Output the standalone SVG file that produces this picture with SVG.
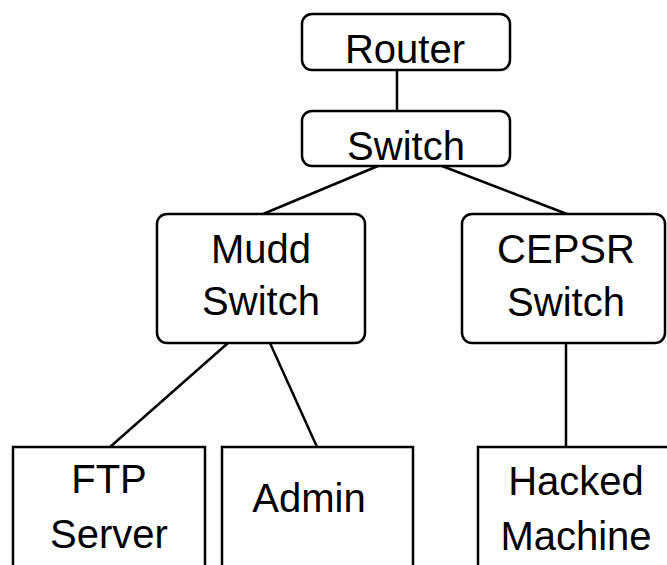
<svg xmlns="http://www.w3.org/2000/svg" width="667" height="565" viewBox="0 0 667 565">
  <style>
    .box { fill: #ffffff; stroke: #000000; stroke-width: 2.5; }
    .link { stroke: #000000; stroke-width: 2.5; fill: none; }
    .label { font-family: "Liberation Sans", Arial, sans-serif; font-size: 40px; fill: #000000; text-anchor: middle; }
  </style>
  <rect width="667" height="565" fill="#ffffff"/>
  <g id="connectors">
    <line class="link" x1="397" y1="70" x2="397" y2="112"/>
    <line class="link" x1="378" y1="166" x2="263" y2="214"/>
    <line class="link" x1="442" y1="166" x2="567" y2="214"/>
    <line class="link" x1="228" y1="343" x2="110" y2="447"/>
    <line class="link" x1="270" y1="343" x2="317" y2="447"/>
    <line class="link" x1="566" y1="343" x2="566" y2="447"/>
  </g>
  <g id="router">
    <rect class="box" x="302" y="14" width="208" height="56" rx="10"/>
    <text class="label" x="405" y="63">Router</text>
  </g>
  <g id="switch">
    <rect class="box" x="302" y="111" width="208" height="55" rx="10"/>
    <text class="label" x="406" y="160">Switch</text>
  </g>
  <g id="mudd-switch">
    <rect class="box" x="157" y="214" width="208" height="129" rx="10"/>
    <text class="label" x="261" y="263">Mudd</text>
    <text class="label" x="261" y="315">Switch</text>
  </g>
  <g id="cepsr-switch">
    <rect class="box" x="462" y="214" width="203" height="129" rx="10"/>
    <text class="label" x="566" y="263">CEPSR</text>
    <text class="label" x="566" y="316">Switch</text>
  </g>
  <g id="ftp-server">
    <rect class="box" x="13" y="447" width="192" height="140"/>
    <text class="label" x="109" y="493">FTP</text>
    <text class="label" x="109" y="548">Server</text>
  </g>
  <g id="admin">
    <rect class="box" x="222" y="447" width="191" height="140"/>
    <text class="label" x="309" y="512">Admin</text>
  </g>
  <g id="hacked-machine">
    <rect class="box" x="478" y="447" width="200" height="140"/>
    <text class="label" x="576" y="495">Hacked</text>
    <text class="label" x="576" y="550">Machine</text>
  </g>
</svg>
